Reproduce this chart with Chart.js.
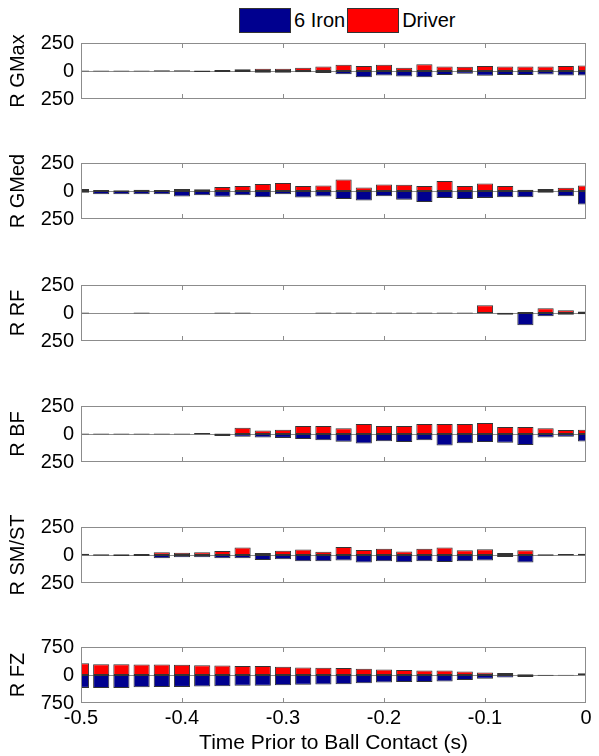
<!DOCTYPE html>
<html>
<head>
<meta charset="utf-8">
<script src="https://cdn.jsdelivr.net/npm/chart.js@4.4.1/dist/chart.umd.min.js"></script>
<style>
    body { margin: 0; background: #fff; }
    #fig { position: relative; width: 599px; height: 756px; font-family: 'Liberation Sans', Arial, sans-serif; }
    .panel { position: absolute; left: 0; width: 599px; }
    #legend { position: absolute; top: 8px; left: 237px; display: flex; align-items: center; font-size: 20px; color: #000; }
    #legend .sw { display: inline-block; width: 50px; height: 23px; border: 1px solid #333; margin: 0 3px 0 2px; }
</style>
</head>
<body>
<div id="fig">
    <div id="legend"></div>
</div>
<script>
// --- DATA ---
const times = [-0.5, -0.48, -0.46, -0.44, -0.42, -0.4, -0.38, -0.36, -0.34, -0.32, -0.3, -0.28, -0.26,
               -0.24, -0.22, -0.2, -0.18, -0.16, -0.14, -0.12, -0.1, -0.08, -0.06, -0.04, -0.02, 0];
const xTickValues = [-0.5, -0.4, -0.3, -0.2, -0.1, 0];
const seriesNames = ['6 Iron', 'Driver'];

const gmaxIron   = [-5, -5, -4, -5, -5, -5, -8, -8, -8, -15, -15, -12, -18, -30, -55, -40, -50, -55, -35, -25, -42, -35, -35, -32, -40, -40];
const gmaxDriver = [5, 5, 4, 5, 6, 7, 5, 8, 15, 20, 20, 30, 40, 55, 45, 55, 30, 60, 40, 38, 45, 40, 40, 40, 45, 50];

const gmedIron   = [-15, -30, -28, -28, -30, -50, -38, -52, -38, -55, -28, -58, -50, -72, -85, -47, -78, -98, -62, -72, -62, -55, -55, -15, -47, -120];
const gmedDriver = [18, 8, 6, 12, 10, 18, 15, 35, 45, 62, 72, 45, 50, 102, 32, 58, 55, 45, 90, 45, 68, 45, 12, 18, 30, 48];

const rfIron     = [-4, 0, 0, -4, 0, 0, 0, -4, -4, 0, 0, 0, -4, -4, -4, -5, -5, -5, -5, -5, -5, -15, -110, -30, -15, -12];
const rfDriver   = [4, 0, 0, 4, 0, 0, 0, 4, 4, 0, 0, 0, 4, 4, 4, 5, 5, 5, 5, 5, 70, 3, 8, 42, 25, 14];

const bfIron     = [-5, -5, -5, -5, -5, -5, -4, -18, -25, -32, -35, -45, -55, -70, -85, -65, -72, -55, -102, -82, -72, -78, -98, -32, -25, -68];
const bfDriver   = [5, 5, 5, 5, 5, 5, 10, 4, 55, 32, 38, 72, 72, 52, 90, 72, 72, 90, 90, 90, 98, 62, 62, 52, 35, 38];

const smIron     = [-4, -6, -8, -8, -28, -20, -20, -28, -30, -45, -38, -55, -55, -48, -68, -55, -65, -55, -62, -55, -50, -18, -68, -6, -5, -4];
const smDriver   = [12, 6, 6, 8, 25, 20, 25, 35, 68, 18, 38, 50, 30, 72, 45, 55, 32, 55, 68, 42, 52, 18, 42, 6, 10, 12];

const fzIron     = [-345, -345, -345, -330, -320, -320, -310, -300, -290, -290, -272, -264, -255, -245, -218, -200, -190, -190, -172, -136, -100, -64, -55, -18, -15, -8];
const fzDriver   = [315, 290, 290, 280, 280, 272, 263, 255, 238, 238, 220, 204, 195, 187, 170, 145, 136, 119, 119, 94, 68, 51, 17, 10, 10, 45];

const panels = [
    { label: 'R GMax',  iron: gmaxIron, driver: gmaxDriver, lim: 250, top: 43,  bottom: 99 },
    { label: 'R GMed',  iron: gmedIron, driver: gmedDriver, lim: 250, top: 163, bottom: 219 },
    { label: 'R RF',    iron: rfIron,   driver: rfDriver,   lim: 250, top: 285, bottom: 341 },
    { label: 'R BF',    iron: bfIron,   driver: bfDriver,   lim: 250, top: 406, bottom: 462 },
    { label: 'R SM/ST', iron: smIron,   driver: smDriver,   lim: 250, top: 527, bottom: 583 },
    { label: 'R FZ',    iron: fzIron,   driver: fzDriver,   lim: 750, top: 647, bottom: 703 }
];

// --- STYLE ---
const IRON_COLOR = '#00008f';
const DRIVER_COLOR = '#ff0000';
const EDGE_COLOR = '#333333';
const BOX_COLOR = '#8c8c8c';
const PLOT_LEFT = 81;
const PLOT_RIGHT = 586;
const FIG_W = 599;
const FIG_H = 756;
const FONT = { family: "'Liberation Sans', Arial, sans-serif", size: 20 };

Chart.defaults.font.family = FONT.family;
Chart.defaults.color = '#000';

// box, baseline and inside tick marks like the original axes
const axesBox = {
    id: 'axesBox',
    beforeDatasetsDraw(chart) {
        const { ctx, chartArea: a, scales: { y } } = chart;
        const y0 = Math.round(y.getPixelForValue(0)) + 0.5;
        ctx.save();
        ctx.strokeStyle = BOX_COLOR;
        ctx.lineWidth = 1;
        ctx.beginPath();
        ctx.moveTo(a.left, y0);
        ctx.lineTo(a.right, y0);
        ctx.stroke();
        ctx.restore();
    },
    afterDraw(chart) {
        const { ctx, chartArea: a, scales: { x } } = chart;
        ctx.save();
        ctx.strokeStyle = BOX_COLOR;
        ctx.lineWidth = 1;
        ctx.strokeRect(Math.round(a.left) + 0.5, Math.round(a.top) + 0.5,
                       Math.round(a.right - a.left) - 1, Math.round(a.bottom - a.top) - 1);
        ctx.beginPath();
        xTickValues.slice(1, -1).forEach(v => {
            const px = Math.round(x.getPixelForValue(v)) + 0.5;
            ctx.moveTo(px, a.top); ctx.lineTo(px, a.top + 5);
            ctx.moveTo(px, a.bottom); ctx.lineTo(px, a.bottom - 5);
        });
        ctx.stroke();
        ctx.restore();
    }
};

function buildLegend() {
    const legend = document.getElementById('legend');
    [IRON_COLOR, DRIVER_COLOR].forEach((color, i) => {
        const sw = document.createElement('span');
        sw.className = 'sw';
        sw.style.background = color;
        const txt = document.createElement('span');
        txt.textContent = seriesNames[i];
        legend.appendChild(sw);
        legend.appendChild(txt);
    });
}

function buildPanel(p, isLast) {
    const padTop = 25;
    const padBottom = isLast ? 0 : 25;
    const panelTop = p.top - padTop;
    const panelH = isLast ? FIG_H - panelTop : (p.bottom - p.top) + padTop + padBottom;

    const wrap = document.createElement('div');
    wrap.className = 'panel';
    wrap.style.top = panelTop + 'px';
    wrap.style.height = panelH + 'px';
    const canvas = document.createElement('canvas');
    canvas.width = FIG_W;
    canvas.height = panelH;
    wrap.appendChild(canvas);
    document.getElementById('fig').appendChild(wrap);

    const toPoints = vals => times.map((t, i) => ({ x: t, y: vals[i] }));
    const barStyle = {
        borderColor: EDGE_COLOR, borderWidth: 1, borderSkipped: false,
        barPercentage: 0.8, categoryPercentage: 1, grouped: false, clip: 0
    };

    new Chart(canvas, {
        type: 'bar',
        data: {
            datasets: [
                { label: seriesNames[0], data: toPoints(p.iron), backgroundColor: IRON_COLOR, ...barStyle },
                { label: seriesNames[1], data: toPoints(p.driver), backgroundColor: DRIVER_COLOR, ...barStyle }
            ]
        },
        options: {
            responsive: false, animation: false,
            layout: { padding: { top: padTop, bottom: padBottom, left: 0, right: FIG_W - PLOT_RIGHT } },
            plugins: { legend: { display: false }, tooltip: { enabled: false } },
            scales: {
                x: {
                    type: 'linear', min: -0.5, max: 0, offset: false, display: isLast,
                    grid: { display: false, drawTicks: false }, border: { display: false },
                    afterBuildTicks: axis => { axis.ticks = xTickValues.map(v => ({ value: v })); },
                    afterFit: axis => { axis.height = isLast ? 53 : 0; },
                    ticks: {
                        font: FONT, padding: 3, autoSkip: false, maxRotation: 0,
                        callback: v => (v === 0 ? '0' : Number(v).toFixed(1))
                    },
                    title: { display: true, text: 'Time Prior to Ball Contact (s)', font: { ...FONT, size: 21 }, padding: { top: 0, bottom: 0 } }
                },
                y: {
                    min: -p.lim, max: p.lim,
                    grid: { display: false, drawTicks: false }, border: { display: false },
                    afterBuildTicks: axis => { axis.ticks = [-p.lim, 0, p.lim].map(v => ({ value: v })); },
                    afterFit: axis => { axis.width = PLOT_LEFT; },
                    ticks: { font: FONT, padding: 7, autoSkip: false, callback: v => String(Math.abs(v)) },
                    title: { display: true, text: p.label, font: FONT, padding: { top: 6, bottom: 0 } }
                }
            }
        },
        plugins: [axesBox]
    });
}

buildLegend();
panels.forEach((p, i) => buildPanel(p, i === panels.length - 1));
</script>
</body>
</html>
